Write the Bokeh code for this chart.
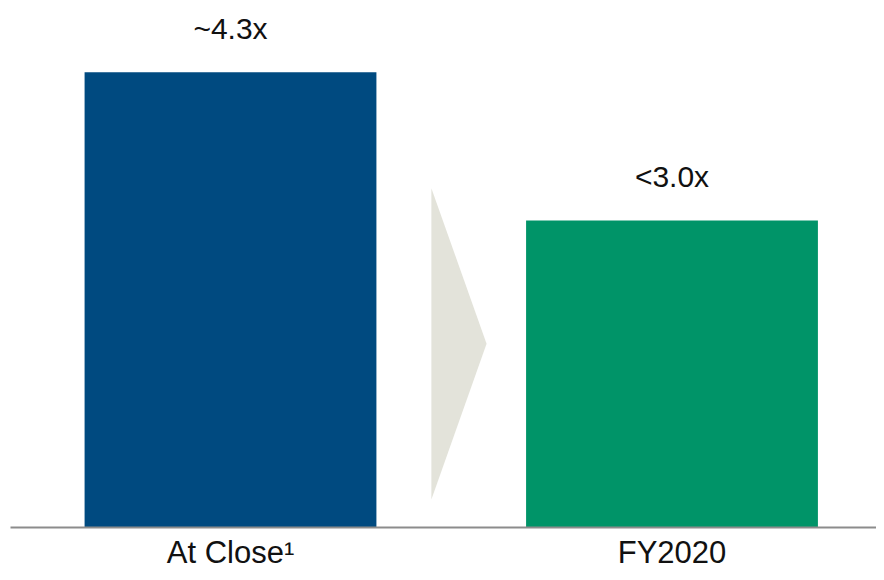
from bokeh.plotting import figure
from bokeh.models import ColumnDataSource, Range1d, FixedTicker
from bokeh.core.properties import value
from bokeh.embed import file_html
from bokeh.resources import INLINE

# Data
categories = ["At Close¹", "FY2020"]
values = [4.3, 2.9]
value_labels = ["~4.3x", "<3.0x"]
bar_colors = ["#004A80", "#009468"]
x_pos = [0.5, 1.5]

# decorative arrow between the bars (data units)
arrow_x = [0.955, 1.080, 0.955]
arrow_y = [3.206, 1.735, 0.264]

FONT = "Liberation Sans"

p = figure(width=876, height=572, output_backend="svg", toolbar_location=None,
           x_range=Range1d(0.0017, 1.9632), y_range=Range1d(0, 4.903),
           min_border_left=10, min_border_right=0, min_border_top=8, min_border_bottom=44)
p.outline_line_color = None
p.grid.visible = False
p.yaxis.visible = False
p.background_fill_color = "white"
p.border_fill_color = "white"

src = ColumnDataSource(dict(x=x_pos, top=values, color=bar_colors, lab=value_labels))
p.vbar(x="x", top="top", bottom=0, width=0.661, color="color", line_color=None, source=src)
p.patch(arrow_x, arrow_y, fill_color="#E3E3DA", line_color=None)

p.text(x="x", y="top", text="lab", source=src, text_align="center", text_baseline="middle",
       y_offset=-44, text_font=value(FONT), text_font_size="30px", text_color="#111111")

ax = p.xaxis[0]
ax.ticker = FixedTicker(ticks=x_pos)
ax.major_label_overrides = {x: c for x, c in zip(x_pos, categories)}
ax.major_tick_in = 0
ax.major_tick_out = 0
ax.minor_tick_in = 0
ax.minor_tick_out = 0
ax.axis_line_color = "#8C8C8C"
ax.axis_line_width = 2
ax.major_label_standoff = 7
ax.major_label_text_font = FONT
ax.major_label_text_font_size = "31px"
ax.major_label_text_color = "#111111"

open("out.html", "w").write(file_html(p, INLINE))
